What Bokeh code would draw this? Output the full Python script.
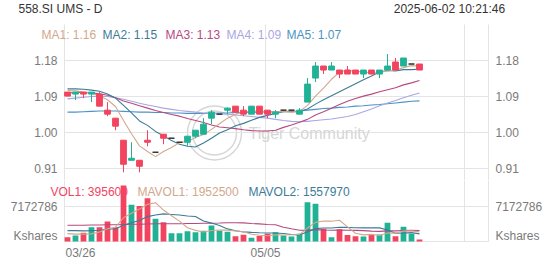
from bokeh.plotting import figure
from bokeh.models import ColumnDataSource, FixedTicker, Label, Range1d
from bokeh.layouts import column
from bokeh.embed import file_html
from bokeh.resources import INLINE

# ---------------- data ----------------
dates = ["03/27", "03/28", "03/31", "04/01", "04/02", "04/03", "04/04", "04/07", "04/08",
         "04/09", "04/10", "04/11", "04/14", "04/15", "04/16", "04/17", "04/21", "04/22",
         "04/23", "04/24", "04/25", "04/28", "04/29", "04/30", "05/02", "05/05", "05/06",
         "05/07", "05/08", "05/09", "05/13", "05/14", "05/15", "05/16", "05/19", "05/20",
         "05/21", "05/22", "05/23", "05/26", "05/27", "05/28", "05/29", "05/30", "06/02"]

opens = [1.100, 1.095, 1.100, 1.095, 1.095, 1.055, 1.035, 0.980, 0.930, 0.930, 0.980, 0.950,
         0.995, 0.985, 0.975, 0.975, 0.990, 0.995, 1.035, 1.045, 1.055, 1.065, 1.055, 1.045,
         1.065, 1.055, 1.045, 1.055, 1.055, 1.045, 1.075, 1.135, 1.165, 1.155, 1.155, 1.155,
         1.155, 1.145, 1.155, 1.145, 1.155, 1.175, 1.165, 1.170, 1.170]
highs = [1.100, 1.100, 1.100, 1.100, 1.100, 1.075, 1.035, 0.980, 0.975, 0.930, 1.005, 0.950,
         0.995, 0.985, 0.975, 0.990, 1.005, 1.035, 1.055, 1.045, 1.062, 1.065, 1.065, 1.065,
         1.065, 1.055, 1.055, 1.055, 1.055, 1.060, 1.135, 1.175, 1.165, 1.175, 1.155, 1.165,
         1.155, 1.155, 1.155, 1.155, 1.195, 1.185, 1.185, 1.170, 1.170]
lows = [1.090, 1.080, 1.085, 1.075, 1.065, 1.040, 1.005, 0.900, 0.930, 0.900, 0.965, 0.950,
        0.970, 0.985, 0.975, 0.965, 0.985, 0.995, 1.020, 1.045, 1.045, 1.050, 1.040, 1.045,
        1.045, 1.035, 1.035, 1.055, 1.055, 1.045, 1.075, 1.125, 1.145, 1.155, 1.135, 1.145,
        1.145, 1.135, 1.145, 1.135, 1.155, 1.155, 1.165, 1.170, 1.155]
closes = [1.090, 1.100, 1.095, 1.100, 1.065, 1.045, 1.015, 0.920, 0.935, 0.915, 0.975, 0.950,
          0.985, 0.985, 0.975, 0.990, 1.005, 1.020, 1.050, 1.045, 1.060, 1.050, 1.045, 1.065,
          1.045, 1.045, 1.050, 1.055, 1.055, 1.055, 1.120, 1.165, 1.155, 1.165, 1.145, 1.145,
          1.145, 1.155, 1.145, 1.155, 1.165, 1.155, 1.185, 1.170, 1.155]

volumes = [870000, 1220000, 1760000, 2900000, 2900000, 4060000, 2900000, 11400000, 7450000,
           7200000, 8800000, 4600000, 3900000, 1700000, 1700000, 2100000, 1900000, 2200000,
           3250000, 2200000, 2000000, 1050000, 1350000, 780000, 1100000, 1600000, 1900000,
           1200000, 1000000, 1560000, 8000000, 7660000, 2580000, 870000, 2500000, 1300000,
           1080000, 1000000, 1300000, 1400000, 3800000, 1050000, 3000000, 1560000, 395600]

ma1 = [1.104, 1.103, 1.100, 1.098, 1.090, 1.081, 1.064, 1.029, 0.996, 0.966, 0.952, 0.939,
       0.952, 0.962, 0.974, 0.977, 0.987, 0.994, 1.007, 1.021, 1.035, 1.045, 1.050, 1.053,
       1.053, 1.050, 1.050, 1.052, 1.050, 1.052, 1.067, 1.090, 1.110, 1.132, 1.150, 1.155,
       1.151, 1.151, 1.147, 1.149, 1.153, 1.155, 1.161, 1.166, 1.165]
ma2 = [1.108, 1.108, 1.107, 1.105, 1.102, 1.095, 1.085, 1.067, 1.048, 1.028, 1.017, 1.002,
       0.991, 0.979, 0.970, 0.965, 0.963, 0.973, 0.985, 0.998, 1.006, 1.016, 1.022, 1.030,
       1.037, 1.042, 1.047, 1.051, 1.051, 1.052, 1.058, 1.070, 1.081, 1.091, 1.101, 1.111,
       1.121, 1.131, 1.140, 1.150, 1.154, 1.153, 1.156, 1.156, 1.157]
ma3 = [1.098, 1.099, 1.099, 1.098, 1.096, 1.092, 1.086, 1.078, 1.072, 1.066, 1.060, 1.054,
       1.049, 1.044, 1.040, 1.034, 1.029, 1.024, 1.018, 1.013, 1.011, 1.009, 1.006, 1.004,
       1.003, 1.003, 1.005, 1.012, 1.018, 1.025, 1.032, 1.043, 1.051, 1.060, 1.069, 1.077,
       1.084, 1.090, 1.095, 1.101, 1.106, 1.111, 1.118, 1.123, 1.129]
ma4 = [1.083, 1.085, 1.087, 1.089, 1.090, 1.089, 1.086, 1.082, 1.077, 1.072, 1.068, 1.064,
       1.060, 1.057, 1.054, 1.052, 1.050, 1.048, 1.047, 1.046, 1.045, 1.043, 1.041, 1.039,
       1.037, 1.035, 1.032, 1.029, 1.027, 1.026, 1.027, 1.029, 1.031, 1.033, 1.036, 1.039,
       1.044, 1.051, 1.058, 1.066, 1.073, 1.079, 1.086, 1.092, 1.098]
ma5 = [1.050, 1.050, 1.051, 1.052, 1.053, 1.053, 1.053, 1.052, 1.051, 1.050, 1.050, 1.049,
       1.049, 1.048, 1.048, 1.047, 1.047, 1.047, 1.047, 1.048, 1.048, 1.049, 1.049, 1.050,
       1.050, 1.051, 1.051, 1.052, 1.052, 1.053, 1.055, 1.057, 1.059, 1.060, 1.062, 1.063,
       1.065, 1.066, 1.068, 1.069, 1.071, 1.073, 1.075, 1.077, 1.078]

mavol1 = [1600000, 1500000, 1500000, 1550000, 1930000, 2570000, 2900000, 4830000, 5740000,
          6600000, 7550000, 7890000, 6390000, 5240000, 4140000, 2800000, 2260000, 1920000,
          2230000, 2330000, 2310000, 2140000, 1970000, 1480000, 1260000, 1180000, 1350000,
          1320000, 1360000, 1450000, 2730000, 3880000, 4160000, 4130000, 4320000, 2980000,
          1670000, 1350000, 1440000, 1220000, 1720000, 1710000, 2110000, 2160000, 1952500]
mavol2 = [2200000, 2200000, 2150000, 2200000, 2300000, 2500000, 2600000, 3300000, 3800000,
          4270000, 5060000, 5400000, 5610000, 5490000, 5370000, 5180000, 5080000, 4160000,
          3740000, 3240000, 2560000, 2200000, 1950000, 1850000, 1790000, 1740000, 1740000,
          1640000, 1420000, 1350000, 1950000, 2620000, 2740000, 2750000, 2890000, 2860000,
          2780000, 2760000, 2790000, 2770000, 2350000, 1690000, 1730000, 1800000, 1557970]
mavol3 = [3300000, 3300000, 3300000, 3350000, 3350000, 3400000, 3400000, 3450000, 3500000,
          3500000, 3550000, 3600000, 3600000, 3600000, 3600000, 3650000, 3650000, 3700000,
          3700000, 3750000, 3810000, 3800000, 3780000, 3670000, 3580000, 3460000, 3410000,
          2900000, 2580000, 2300000, 2260000, 2410000, 2340000, 2300000, 2340000, 2300000,
          2260000, 2200000, 2100000, 2060000, 2150000, 2150000, 2230000, 2270000, 2240000]

price_ticks = [0.91, 1.00, 1.09, 1.18]
vol_ticks = [7172786, 1219000]
vol_tick_labels = ["7172786", "Kshares"]
date_ticks = [-0.25, 24.75]
date_tick_labels = ["03/26", "05/05"]
title_left = "558.SI UMS - D"
title_right = "2025-06-02  10:21:46"
ma_labels = ["MA1: 1.16", "MA2: 1.15", "MA3: 1.13", "MA4: 1.09", "MA5: 1.07"]
vol_labels = ["VOL1: 395600", "MAVOL1: 1952500", "MAVOL2: 1557970"]
watermark = "Tiger Community"

# ---------------- styling ----------------
UP = "#21b296"
DOWN = "#f2445f"
DOJI = "#2b2b2b"
MA_COLORS = ["#d2a88c", "#3b7b97", "#b8497f", "#aaa7e2", "#4a94c4"]
GRID = "#e4e4e4"
FONT = "Liberation Sans"
AX_COLOR = "#7a7a7a"
WM_COLOR = "#d6d6d6"
W = 552

n = len(dates)
xs = list(range(n))
col = [UP if c > o else (DOWN if c < o else DOJI) for o, c in zip(opens, closes)]
vcol = [DOWN if c < o else UP for o, c in zip(opens, closes)]
src = ColumnDataSource(dict(
    x=xs, o=opens, h=highs, l=lows, c=closes,
    top=[max(o, c) for o, c in zip(opens, closes)],
    bot=[min(o, c) for o, c in zip(opens, closes)],
    col=col, vol=volumes, vcol=vcol,
    ma1=ma1, ma2=ma2, ma3=ma3, ma4=ma4, ma5=ma5,
    mv1=mavol1, mv2=mavol2, mv3=mavol3))

# frame spans the whole canvas; chart area is x index -0.375 .. 52.625 (8 px per day)
x_range = Range1d(-8.375, 60.625)
chart_x = (-0.375, 52.625)
grid_x = [-0.375, 24.75, 49.625, 52.625]


def txt(fig, x, y, text, color, size="12px", align="left", xu="screen", yu="screen",
        level="annotation"):
    fig.add_layout(Label(x=x, y=y, x_units=xu, y_units=yu, text=text, text_font=FONT,
                         text_font_size=size, text_color=color, text_align=align,
                         text_baseline="middle", level=level))


def base_fig(height, y0, y1):
    f = figure(width=W, height=height, x_range=x_range, y_range=Range1d(y0, y1),
               output_backend="svg", toolbar_location=None,
               x_axis_location=None, y_axis_location=None,
               min_border_left=0, min_border_right=0, min_border_top=0, min_border_bottom=0,
               outline_line_color=None, background_fill_color="white",
               border_fill_color="white")
    f.grid.grid_line_color = GRID
    f.xgrid.ticker = FixedTicker(ticks=grid_x)
    f.ygrid.cross_bounds = chart_x
    return f


# ---------------- price panel (canvas y 0..180) ----------------
p_lo, p_hi = 0.87955, 1.32843
p = base_fig(180, p_lo, p_hi)
p.ygrid.ticker = FixedTicker(ticks=price_ticks)
p.xgrid.cross_bounds = (p_lo, 1.26858)

for t in price_ticks:
    s = "%.2f" % t
    txt(p, 57, t, s, AX_COLOR, align="right", yu="data")
    txt(p, 495, t, s, AX_COLOR, align="left", yu="data")

# watermark (logo rings + text), drawn beneath the data
wm = ColumnDataSource(dict(x=[18.375, 18.375], y=[0.998, 0.998], s=[54, 44]))
p.scatter("x", "y", size="s", source=wm, marker="circle", fill_color=None,
          line_color=WM_COLOR, line_width=1.4, level="underlay")
txt(p, 248, 47, watermark, WM_COLOR, size="16px", level="underlay")

for key, c in zip(["ma5", "ma4", "ma3", "ma2", "ma1"], MA_COLORS[::-1]):
    p.line("x", key, source=src, line_color=c, line_width=1.1)

p.segment("x", "l", "x", "h", source=src, line_color="col", line_width=1)
p.vbar(x="x", width=0.72, top="top", bottom="bot", source=src,
       fill_color="col", line_color="col", line_width=1)

for t, c, x in zip(ma_labels, MA_COLORS, [41, 102, 165, 226, 286]):
    txt(p, x, 146, t, c)
txt(p, 18, 172, title_left, "#333333")
txt(p, 508, 172, title_right, "#333333", align="right")

# ---------------- volume panel (canvas y 180..265) ----------------
per_px = 7172786 / 35.3
v_lo, v_hi = -24 * per_px, 61 * per_px
v = base_fig(85, v_lo, v_hi)
v.ygrid.ticker = FixedTicker(ticks=[0, vol_ticks[0]])
v.xgrid.cross_bounds = (0, v_hi)

for t, s in zip(vol_ticks, vol_tick_labels):
    txt(v, 57, t, s, AX_COLOR, align="right", yu="data")
    txt(v, 495, t, s, AX_COLOR, align="left", yu="data")
for t, s, a in zip(date_ticks, date_tick_labels, ["left", "center"]):
    txt(v, t, 13, s, AX_COLOR, align=a, xu="data")

for t, c, x in zip(vol_labels, [DOWN, MA_COLORS[0], MA_COLORS[1]], [50, 137, 248]):
    txt(v, x, 74, t, c, level="underlay")

v.vbar(x="x", width=0.72, top="vol", bottom=0, source=src,
       fill_color="vcol", line_color=None)
v.line("x", "mv3", source=src, line_color=MA_COLORS[2], line_width=1.1)
v.line("x", "mv2", source=src, line_color=MA_COLORS[1], line_width=1.1)
v.line("x", "mv1", source=src, line_color=MA_COLORS[0], line_width=1.1)

layout = column(p, v, spacing=0)
open("out.html", "w").write(file_html(layout, INLINE))
